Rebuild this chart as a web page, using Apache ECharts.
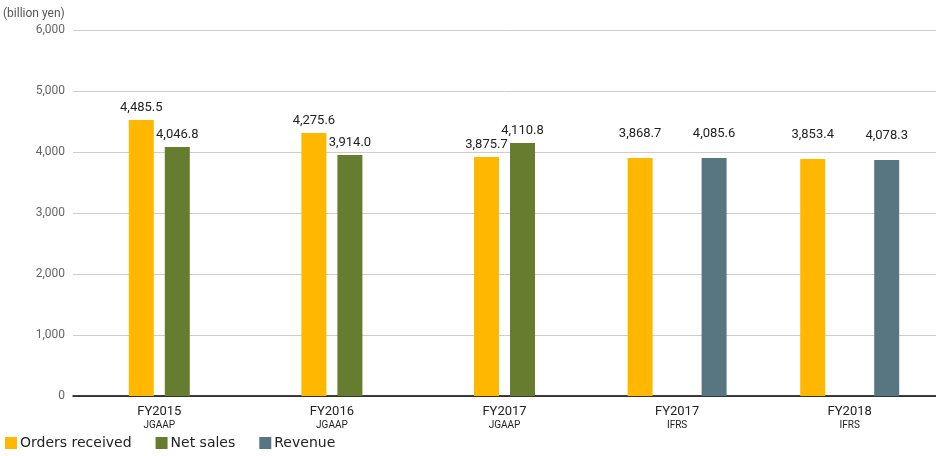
<!DOCTYPE html>
<html>
<head>
<meta charset="utf-8">
<script src="https://cdn.jsdelivr.net/npm/echarts@6/dist/echarts.min.js"></script>
<style>html,body{margin:0;padding:0;background:#fff}#main{width:936px;height:456px}</style>
</head>
<body>
<div id="main"></div>
<script>
// categories and data, bar heights, labels as printed
var years = ['FY2015', 'FY2016', 'FY2017', 'FY2017', 'FY2018'];
var basis = ['JGAAP', 'JGAAP', 'JGAAP', 'IFRS', 'IFRS'];
var ordersJ = [4525, 4311, 3918, null, null];
var netSales = [4082, 3951, 4148, null, null];
var ordersI = [null, null, null, 3902, 3885];
var revenue = [null, null, null, 3902, 3869];
var ordersText = ['4,485.5', '4,275.6', '3,875.7', '3,868.7', '3,853.4'];
var netText = ['4,046.8', '3,914.0', '4,110.8', '', ''];
var revenueText = ['', '', '', '4,085.6', '4,078.3'];

var myChart = echarts.init(document.getElementById('main'));

var font = 'Roboto, "DejaVu Sans", sans-serif';
function lab(texts, dist) {
    return {
        show: true, position: 'top', distance: dist, color: '#222',
        fontSize: 13, fontFamily: font,
        formatter: function (p) { return texts[p.dataIndex]; }
    };
}

var option = {
    animation: false,
    textStyle: { fontFamily: font },
    grid: { left: 70, right: 0, top: 30, bottom: 60 },
    legend: {
        left: 0, bottom: 1, itemWidth: 12, itemHeight: 12, itemGap: 24,
        icon: 'rect',
        textStyle: { fontSize: 14, color: '#222', fontFamily: '"DejaVu Sans", sans-serif', padding: [0, 0, 0, -2] },
        data: ['Orders received', 'Net sales', 'Revenue']
    },
    xAxis: [{
        type: 'category', data: years,
        axisLine: { lineStyle: { color: '#000', width: 1.5 } },
        axisTick: { show: false },
        axisLabel: {
            margin: 8,
            formatter: function (v, i) { return '{a|' + v + '}\n{b|' + basis[i] + '}'; },
            rich: {
                a: { fontSize: 13, color: '#222', fontFamily: font, lineHeight: 15 },
                b: { fontSize: 10, color: '#222', fontFamily: font, lineHeight: 12 }
            }
        }
    }, {
        type: 'category', data: years, show: false, position: 'bottom'
    }],
    yAxis: {
        type: 'value', min: 0, max: 6000, interval: 1000,
        axisLine: { show: false }, axisTick: { show: false },
        name: '(billion yen)', nameLocation: 'end', nameGap: 10,
        nameTextStyle: { color: '#555', fontSize: 12, align: 'left', padding: [0, 0, 0, -70] },
        axisLabel: {
            color: '#666', fontSize: 12, margin: 8,
            formatter: function (v) { return v.toLocaleString('en-US'); }
        },
        splitLine: { lineStyle: { color: '#ccc' } }
    },
    series: [
        { name: 'Orders received', type: 'bar', xAxisIndex: 0, data: ordersJ, barWidth: 25, barGap: '44%',
          itemStyle: { color: '#ffb700' }, label: lab(ordersText, 6) },
        { name: 'Net sales', type: 'bar', xAxisIndex: 0, data: netSales, barWidth: 25,
          itemStyle: { color: '#667d2f' }, label: lab(netText, 6) },
        { name: 'Orders received', type: 'bar', xAxisIndex: 1, data: ordersI, barWidth: 25, barGap: '196%',
          itemStyle: { color: '#ffb700' }, label: lab(ordersText, 18) },
        { name: 'Revenue', type: 'bar', xAxisIndex: 1, data: revenue, barWidth: 25,
          itemStyle: { color: '#587682' }, label: lab(revenueText, 18) }
    ]
};

myChart.setOption(option);
</script>
</body>
</html>
